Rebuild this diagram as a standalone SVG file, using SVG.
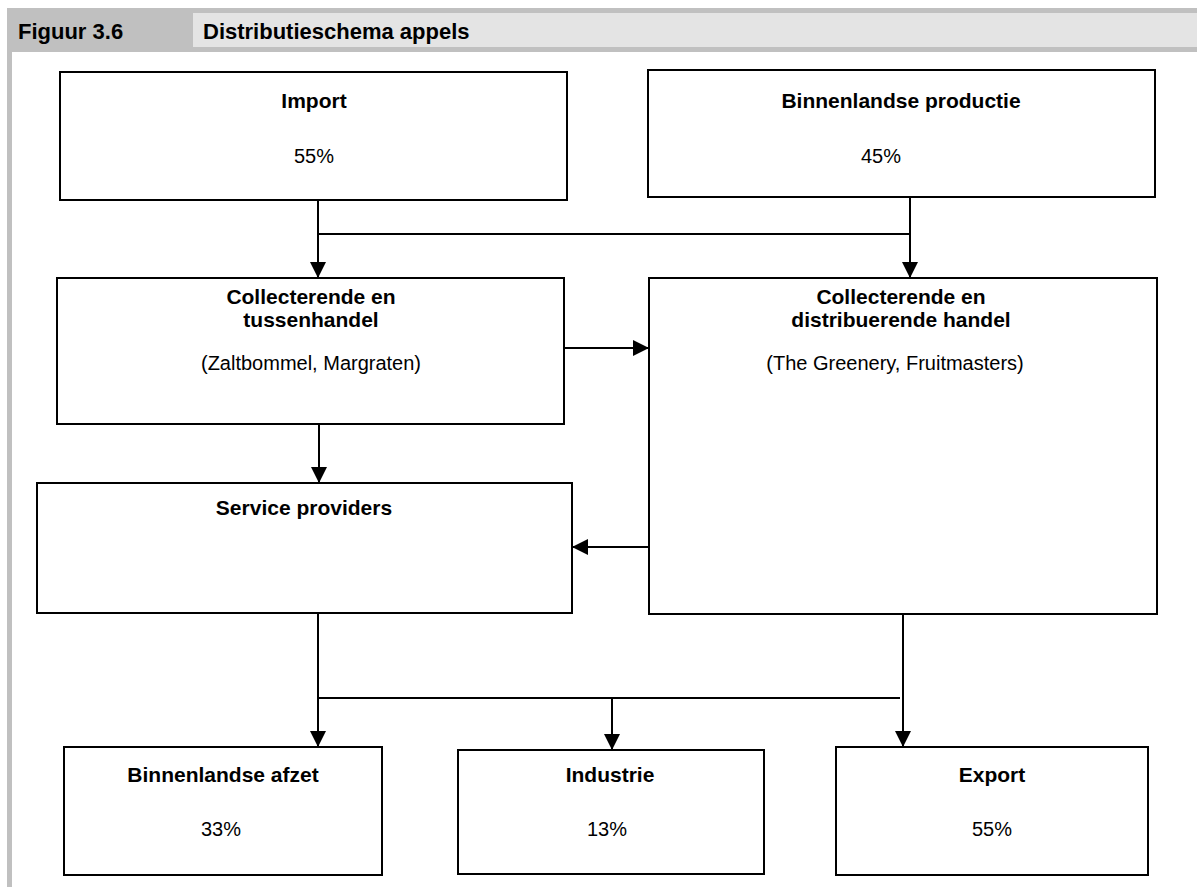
<svg xmlns="http://www.w3.org/2000/svg" width="1197" height="887" viewBox="0 0 1197 887">
<style>
.box{fill:#fff;stroke:#000;stroke-width:2}
.b{font-family:"Liberation Sans",Arial,sans-serif;font-weight:bold;font-size:21px;text-anchor:middle;fill:#000}
.r{font-family:"Liberation Sans",Arial,sans-serif;font-size:20px;text-anchor:middle;fill:#000}
.h{font-family:"Liberation Sans",Arial,sans-serif;font-weight:bold;font-size:22px;fill:#000}
.ln{fill:none;stroke:#000;stroke-width:2}
</style>
<defs>
<marker id="ah" markerUnits="userSpaceOnUse" markerWidth="16" markerHeight="16" viewBox="0 0 16 16" refX="15" refY="8" orient="auto">
<path d="M0,0 L16,8 L0,16 z" fill="#000"/>
</marker>
</defs>
<rect width="1197" height="887" fill="#fff"/>
<g id="header">
<rect x="7" y="8" width="1190" height="44" fill="#c0c0c0"/>
<rect x="193" y="13" width="1004" height="34" fill="#e4e4e4"/>
<rect x="7" y="52" width="5" height="835" fill="#c0c0c0"/>
<text class="h" x="18" y="39">Figuur 3.6</text>
<text class="h" x="203" y="39">Distributieschema appels</text>
</g>
<g id="import">
<rect class="box" x="60" y="72" width="507" height="128"/>
<text class="b" x="314" y="108">Import</text>
<text class="r" x="314" y="163">55%</text>
</g>
<g id="productie">
<rect class="box" x="648" y="70" width="507" height="127"/>
<text class="b" x="901" y="108">Binnenlandse productie</text>
<text class="r" x="881" y="163">45%</text>
</g>
<g id="tussenhandel">
<rect class="box" x="57" y="278" width="507" height="146"/>
<text class="b" x="311" y="304">Collecterende en</text>
<text class="b" x="311" y="327">tussenhandel</text>
<text class="r" x="311" y="370">(Zaltbommel, Margraten)</text>
</g>
<g id="distribuerende">
<rect class="box" x="649" y="278" width="508" height="336"/>
<text class="b" x="901" y="304">Collecterende en</text>
<text class="b" x="901" y="327">distribuerende handel</text>
<text class="r" x="895" y="370">(The Greenery, Fruitmasters)</text>
</g>
<g id="service">
<rect class="box" x="37" y="483" width="535" height="130"/>
<text class="b" x="304" y="515">Service providers</text>
</g>
<g id="afzet">
<rect class="box" x="64" y="747" width="318" height="128"/>
<text class="b" x="223" y="782">Binnenlandse afzet</text>
<text class="r" x="221" y="836">33%</text>
</g>
<g id="industrie">
<rect class="box" x="458" y="750" width="306" height="124"/>
<text class="b" x="610" y="782">Industrie</text>
<text class="r" x="607" y="836">13%</text>
</g>
<g id="export">
<rect class="box" x="836" y="747" width="312" height="128"/>
<text class="b" x="992" y="782">Export</text>
<text class="r" x="992" y="836">55%</text>
</g>
<g id="connectors">
<path class="ln" d="M318,200 V277" marker-end="url(#ah)"/>
<path class="ln" d="M318,234 H910"/>
<path class="ln" d="M910,197 V277" marker-end="url(#ah)"/>
<path class="ln" d="M565,348 H648" marker-end="url(#ah)"/>
<path class="ln" d="M319,424 V482" marker-end="url(#ah)"/>
<path class="ln" d="M649,547 H573" marker-end="url(#ah)"/>
<path class="ln" d="M318,613 V746" marker-end="url(#ah)"/>
<path class="ln" d="M318,698 H900"/>
<path class="ln" d="M612,698 V749" marker-end="url(#ah)"/>
<path class="ln" d="M903,614 V746" marker-end="url(#ah)"/>
</g>
</svg>
